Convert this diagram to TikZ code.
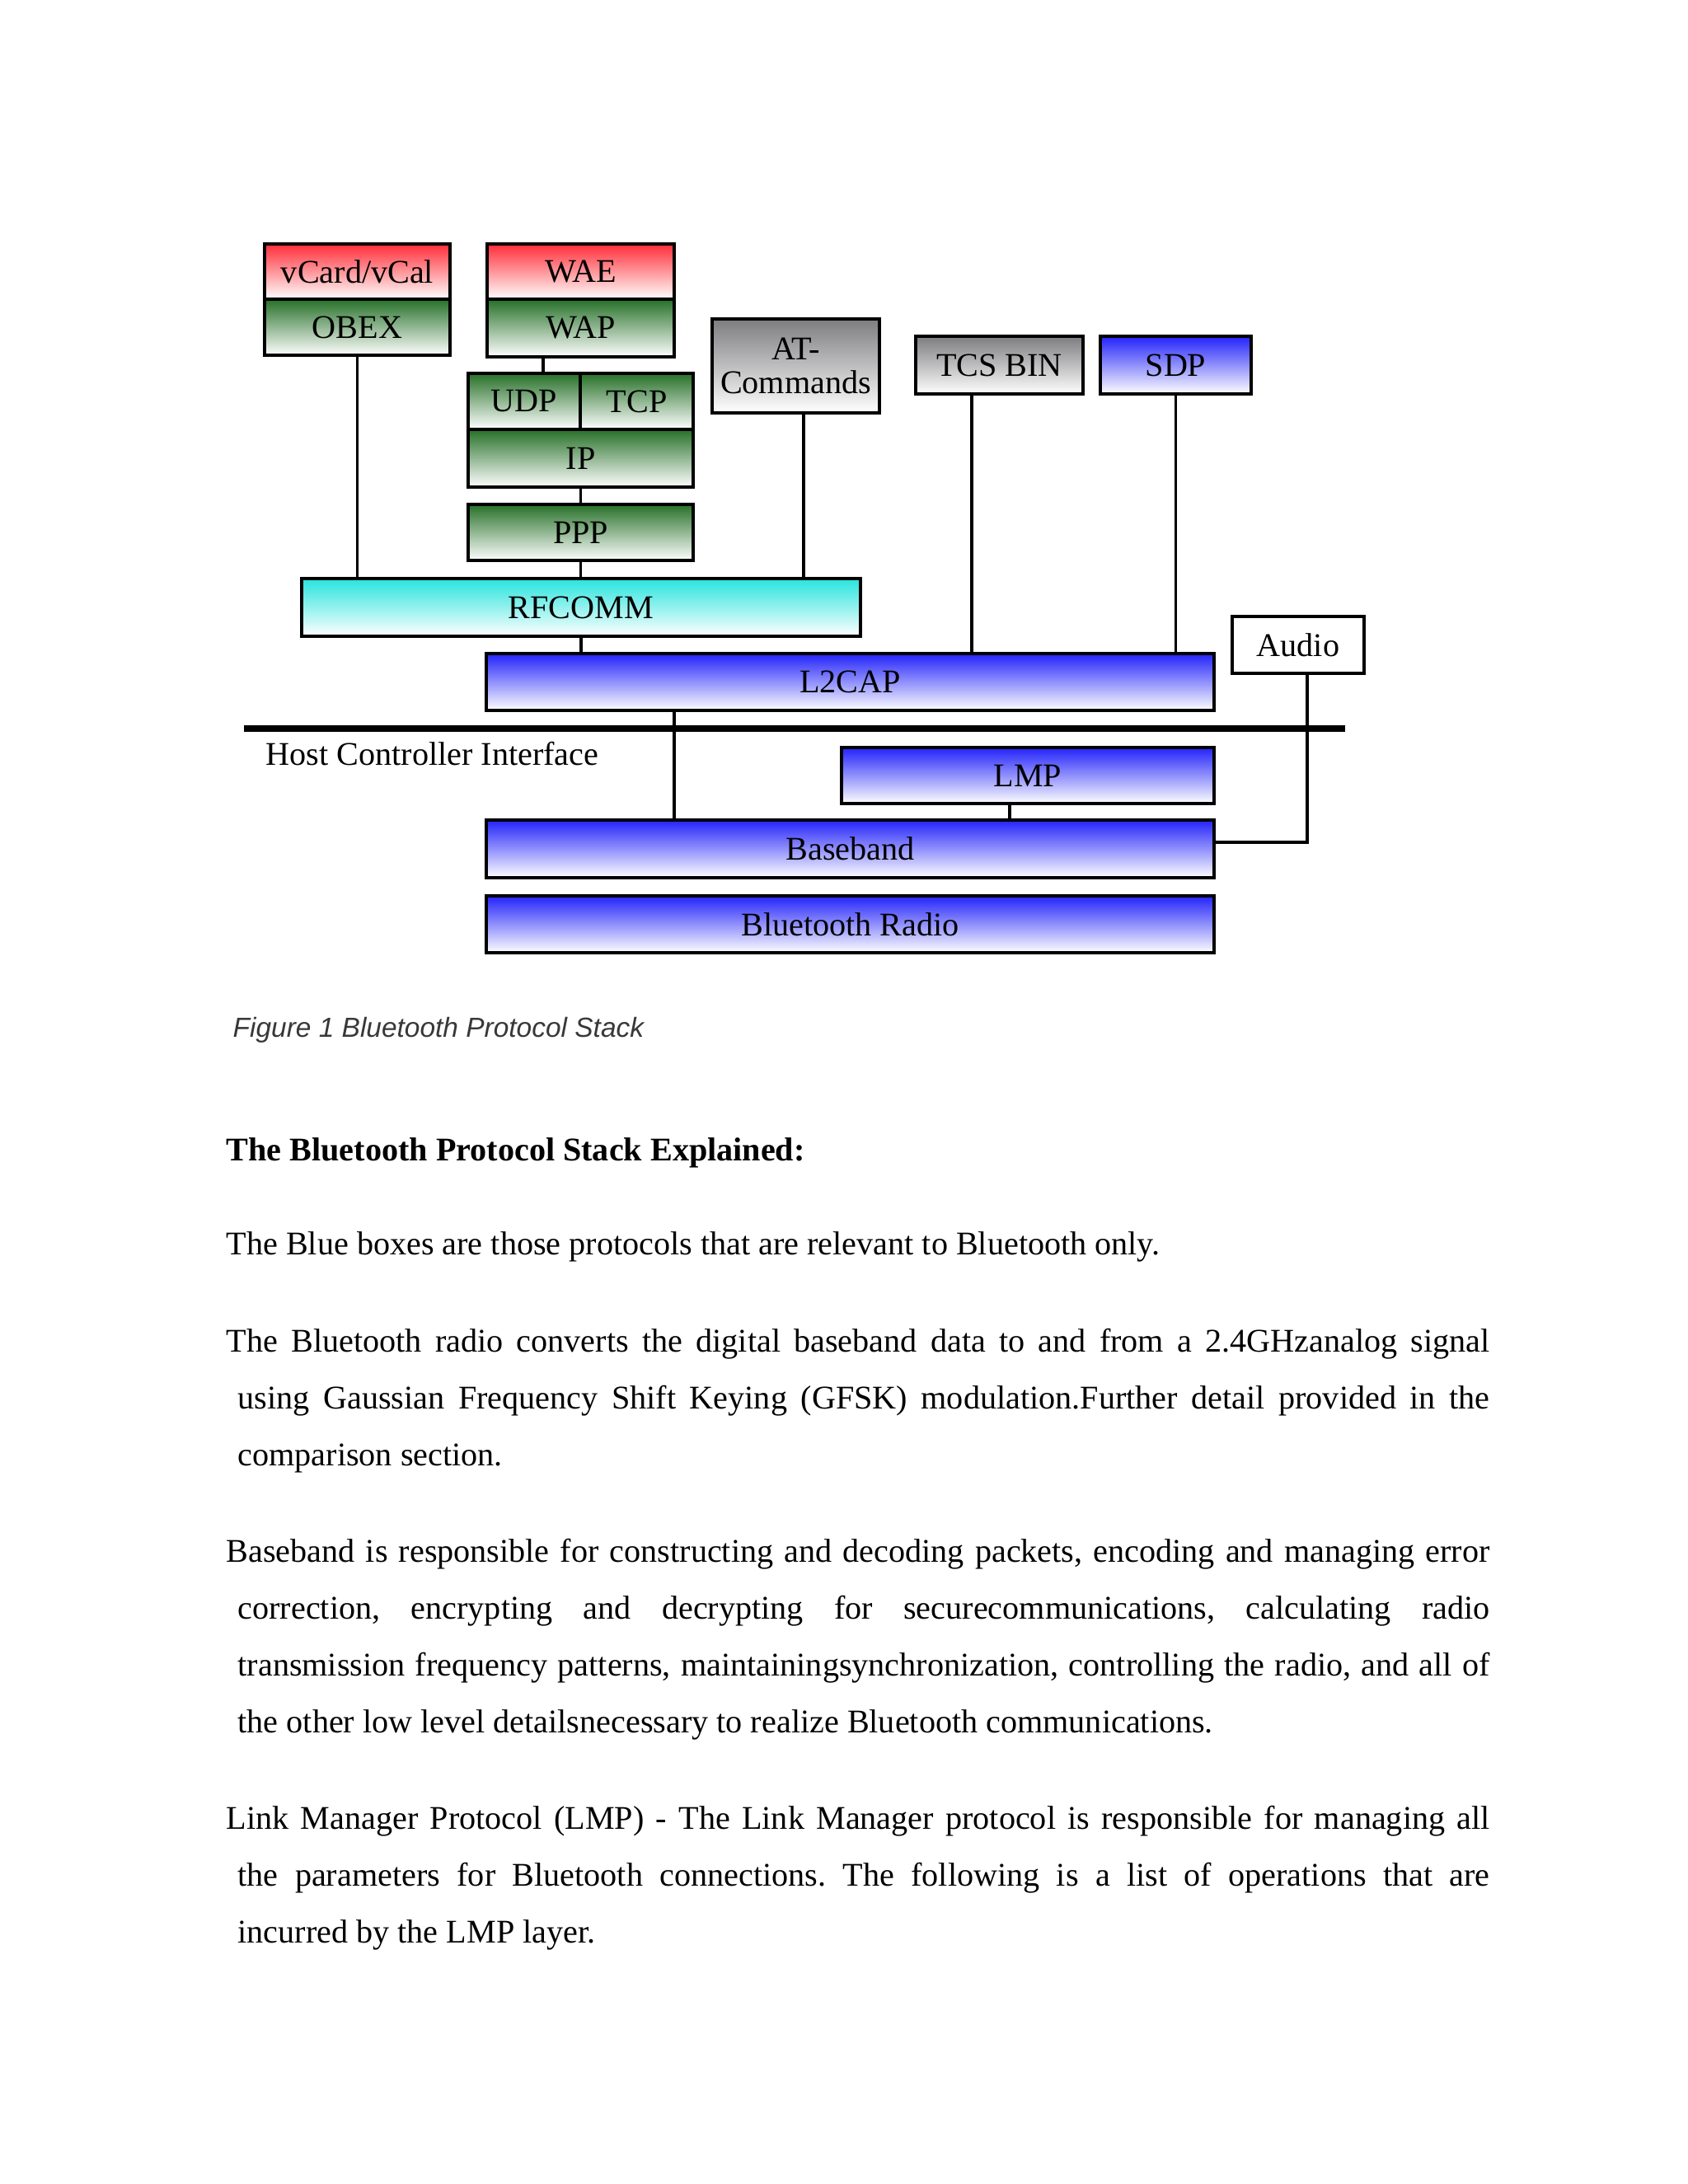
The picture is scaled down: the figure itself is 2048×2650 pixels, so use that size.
\documentclass[tikz,border=0pt]{standalone}
\usepackage{fontspec}
\setmainfont{Liberation Serif}
\newfontfamily\capfont{Liberation Sans}
\frenchspacing
\definecolor{bRed}{RGB}{255,45,55}
\definecolor{bGreen}{RGB}{38,112,40}
\definecolor{bGray}{RGB}{125,125,128}
\definecolor{bBlue}{RGB}{35,35,250}
\definecolor{bCyan}{RGB}{40,228,222}
\newcommand\pbox[7]{\node[#6, minimum width={(#4-#2)*0.298828pt}, minimum height={(#5-#3)*0.298828pt}] (#1) at ({(#2+#4)/2},{(#3+#5)/2}) {#7};}
\newcommand\lineA[1]{\makebox[458.1pt][s]{#1}}
\newcommand\lineB[1]{\makebox[453.9pt][s]{#1}}
\begin{document}
\begin{tikzpicture}[x=0.298828pt, y=-0.298828pt,
  box/.style={draw=black, line width=1.3pt, inner sep=0pt, outer sep=0pt, align=center,
    font=\fontsize{12}{12.5}\selectfont},
  redbox/.style={box, top color=bRed, middle color=bRed!42, bottom color=white},
  greenbox/.style={box, top color=bGreen, middle color=bGreen!42, bottom color=white},
  graybox/.style={box, top color=bGray, middle color=bGray!45, bottom color=white},
  bluebox/.style={box, top color=bBlue, middle color=bBlue!42, bottom color=white},
  cyanbox/.style={box, top color=bCyan, middle color=bCyan!42, bottom color=white},
  plainbox/.style={box, fill=white},
  link/.style={line width=1pt},
  body/.style={anchor=base west, inner sep=0pt, font=\fontsize{12}{14}\selectfont}]
\useasboundingbox (0,0) rectangle (2048,2650);
\fill[white] (0,0) rectangle (2048,2650);

% boxes
\pbox{vcard}{321}{296}{546}{363}{redbox}{vCard/vCal}
\pbox{OBEX}{321}{363}{546}{431}{greenbox}{OBEX}
\pbox{WAE}{591}{296}{818}{363}{redbox}{WAE}
\pbox{WAP}{591}{363}{818}{433}{greenbox}{WAP}
\pbox{UDP}{568}{453}{704}{521}{greenbox}{UDP}
\pbox{TCP}{704}{453}{841}{521}{greenbox}{TCP}
\pbox{IP}{568}{521}{841}{591}{greenbox}{IP}
\pbox{PPP}{568}{612}{841}{680}{greenbox}{PPP}
\pbox{AT}{864}{387}{1067}{501}{graybox}{AT-\\Commands}
\pbox{TCS}{1111}{408}{1314}{478}{graybox}{TCS BIN}
\pbox{SDP}{1335}{408}{1518}{478}{bluebox}{SDP}
\pbox{RFCOMM}{366}{702}{1044}{772}{cyanbox}{RFCOMM}
\pbox{Audio}{1495}{748}{1655}{817}{plainbox}{Audio}
\pbox{L2CAP}{590}{793}{1473}{862}{bluebox}{L2CAP}
\pbox{LMP}{1021}{907}{1473}{975}{bluebox}{LMP}
\pbox{BB}{590}{995}{1473}{1065}{bluebox}{Baseband}
\pbox{Radio}{590}{1087}{1473}{1156}{bluebox}{Bluetooth Radio}

% host controller interface
\coordinate (hciL) at (296,884);
\coordinate (hciR) at (1632,884);
\draw[line width=2.2pt] (hciL) -- (hciR);
\node[body] (hci) at (322,928) {Host Controller Interface};

% connectors
\coordinate (wx) at (659,0);
\coordinate (ax) at (975,0);
\coordinate (tx) at (1179,0);
\coordinate (lx) at (818,0);
\coordinate (mx) at (1225,0);
\coordinate (au) at (1586,1022);
\draw[link] (OBEX.south) -- (OBEX.south |- RFCOMM.north);
\draw[link] (wx |- WAP.south) -- (wx |- UDP.north);
\draw[link] (IP.south) -- (PPP.north);
\draw[link] (PPP.south) -- (PPP.south |- RFCOMM.north);
\draw[link] (ax |- AT.south) -- (ax |- RFCOMM.north);
\draw[link] (RFCOMM.south) -- (RFCOMM.south |- L2CAP.north);
\draw[link] (tx |- TCS.south) -- (tx |- L2CAP.north);
\draw[link] (SDP.south) -- (SDP.south |- L2CAP.north);
\draw[link] (lx |- L2CAP.south) -- (lx |- BB.north);
\draw[link] (mx |- LMP.south) -- (mx |- BB.north);
\draw[link, line join=miter] (au |- Audio.south) -- (au) -- (au -| BB.east);

% caption
\node[anchor=base west, inner sep=0pt, font=\capfont\itshape\fontsize{10}{12}\selectfont, text=black!78] (cap) at (282,1258) {Figure 1 Bluetooth Protocol Stack};

% body text
\node[body] (head) at (274,1408) {\bfseries The Bluetooth Protocol Stack Explained:};
\node[body] (p1) at (274,1522) {The Blue boxes are those protocols that are relevant to Bluetooth only.};
\node[body] (p2a) at (274,1640) {\lineA{The Bluetooth radio converts the digital baseband data to and from a 2.4GHzanalog signal}};
\node[body] (p2b) at (288,1709) {\lineB{using Gaussian Frequency Shift Keying (GFSK) modulation.Further detail provided in the}};
\node[body] (p2c) at (288,1778) {comparison section.};
\node[body] (p3a) at (274,1895) {\lineA{Baseband is responsible for constructing and decoding packets, encoding and managing error}};
\node[body] (p3b) at (288,1964) {\lineB{correction, encrypting and decrypting for securecommunications, calculating radio}};
\node[body] (p3c) at (288,2033) {\lineB{transmission frequency patterns, maintainingsynchronization, controlling the radio, and all of}};
\node[body] (p3d) at (288,2102) {the other low level detailsnecessary to realize Bluetooth communications.};
\node[body] (p4a) at (274,2219) {\lineA{Link Manager Protocol (LMP) - The Link Manager protocol is responsible for managing all}};
\node[body] (p4b) at (288,2288) {\lineB{the parameters for Bluetooth connections. The following is a list of operations that are}};
\node[body] (p4c) at (288,2357) {incurred by the LMP layer.};
\end{tikzpicture}
\end{document}
